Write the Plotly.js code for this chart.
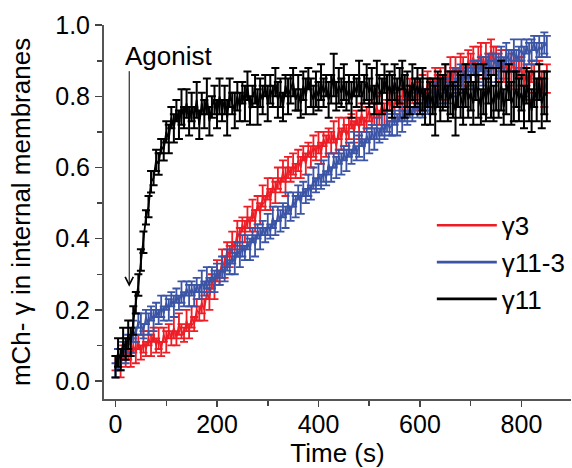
<!DOCTYPE html>
<html>
<head>
<meta charset="utf-8">
<script src="https://cdn.plot.ly/plotly-3.0.1.min.js"></script>
<style>html,body{margin:0;padding:0;background:#fff;}#chart{width:572px;height:468px;}</style>
</head>
<body>
<div id="chart"></div>
<script>
// Time points (s)
var time = [
0,5,10,15,20,25,30,35,40,45,
50,55,60,65,70,75,80,85,90,95,
100,105,110,115,120,125,130,135,140,145,
150,155,160,165,170,175,180,185,190,195,
200,205,210,215,220,225,230,235,240,245,
250,255,260,265,270,275,280,285,290,295,
300,305,310,315,320,325,330,335,340,345,
350,355,360,365,370,375,380,385,390,395,
400,405,410,415,420,425,430,435,440,445,
450,455,460,465,470,475,480,485,490,495,
500,505,510,515,520,525,530,535,540,545,
550,555,560,565,570,575,580,585,590,595,
600,605,610,615,620,625,630,635,640,645,
650,655,660,665,670,675,680,685,690,695,
700,705,710,715,720,725,730,735,740,745,
750,755,760,765,770,775,780,785,790,795,
800,805,810,815,820,825,830,835,840,845,
850];

// gamma3 (red)
var g3 = [
.05,.07,.04,.08,.06,.09,.06,.10,.08,.11,
.08,.11,.09,.12,.10,.13,.10,.12,.09,.13,
.11,.14,.12,.15,.12,.16,.14,.13,.17,.14,
.18,.16,.20,.19,.22,.20,.25,.23,.28,.26,
.31,.29,.34,.32,.37,.35,.39,.37,.42,.40,
.44,.42,.46,.44,.48,.45,.50,.47,.52,.50,
.54,.51,.55,.53,.57,.55,.59,.56,.60,.58,
.61,.59,.62,.60,.64,.61,.65,.63,.66,.64,
.67,.64,.68,.66,.69,.67,.70,.66,.71,.68,
.72,.69,.71,.73,.70,.74,.71,.75,.72,.74,
.76,.73,.75,.77,.74,.78,.75,.77,.79,.76,
.78,.80,.77,.79,.81,.78,.82,.80,.79,.82,
.81,.83,.80,.84,.82,.81,.85,.83,.86,.82,
.86,.84,.87,.85,.88,.86,.89,.87,.86,.90,
.88,.91,.87,.90,.92,.88,.91,.89,.93,.90,
.91,.88,.90,.87,.89,.86,.88,.90,.85,.87,
.88,.84,.86,.83,.87,.85,.82,.86,.84,.81,
.85];
var g3err = [
.02,.02,.03,.02,.02,.03,.02,.02,.03,.02,
.02,.03,.02,.02,.03,.02,.02,.03,.02,.02,
.03,.02,.02,.03,.02,.03,.02,.02,.03,.02,
.03,.02,.03,.02,.03,.03,.02,.03,.02,.03,
.03,.02,.03,.03,.02,.03,.03,.02,.03,.03,
.02,.03,.03,.02,.03,.03,.02,.03,.03,.02,
.03,.03,.02,.03,.03,.02,.03,.04,.03,.02,
.03,.02,.03,.03,.02,.03,.02,.03,.03,.02,
.03,.03,.02,.03,.02,.03,.03,.02,.03,.03,
.02,.03,.03,.02,.03,.02,.03,.03,.02,.03,
.03,.02,.03,.03,.02,.03,.03,.02,.03,.03,
.03,.02,.03,.03,.02,.03,.03,.02,.03,.03,
.03,.03,.02,.03,.03,.04,.03,.03,.02,.03,
.03,.03,.04,.03,.03,.02,.03,.04,.03,.03,
.04,.03,.03,.04,.03,.03,.04,.03,.03,.04,
.03,.04,.03,.03,.04,.03,.04,.03,.03,.04,
.03,.04,.03,.04,.03,.04,.03,.04,.03,.04,
.04];

// gamma11-3 (blue)
var g113 = [
.03,.06,.05,.09,.08,.11,.10,.14,.13,.17,
.16,.14,.18,.16,.19,.17,.20,.18,.21,.19,
.22,.20,.23,.21,.24,.22,.25,.23,.26,.24,
.26,.24,.27,.25,.28,.26,.29,.27,.30,.28,
.31,.29,.32,.30,.34,.32,.35,.33,.37,.35,
.38,.36,.39,.37,.41,.38,.42,.40,.43,.41,
.44,.42,.46,.43,.47,.45,.48,.46,.50,.47,
.51,.49,.53,.50,.54,.52,.55,.53,.57,.55,
.58,.56,.59,.57,.61,.58,.62,.60,.63,.61,
.64,.62,.65,.63,.67,.64,.66,.68,.65,.69,
.67,.70,.68,.71,.69,.72,.70,.73,.71,.72,
.74,.72,.75,.73,.76,.74,.77,.75,.78,.76,
.78,.76,.79,.77,.81,.78,.82,.80,.83,.81,
.83,.81,.84,.82,.85,.83,.86,.84,.87,.85,
.86,.88,.85,.87,.89,.86,.88,.90,.87,.89,
.90,.88,.91,.89,.92,.90,.91,.93,.90,.92,
.93,.91,.94,.92,.93,.95,.92,.94,.93,.95,
.94];
var g113err = [
.02,.03,.02,.02,.03,.02,.02,.03,.02,.02,
.03,.02,.02,.03,.02,.03,.02,.02,.03,.02,
.02,.03,.02,.03,.02,.02,.03,.02,.02,.03,
.02,.03,.02,.02,.03,.02,.03,.02,.02,.03,
.02,.02,.03,.02,.03,.02,.02,.03,.02,.03,
.03,.02,.02,.03,.02,.03,.02,.03,.02,.02,
.03,.02,.03,.02,.02,.03,.02,.03,.03,.02,
.02,.03,.02,.03,.02,.02,.03,.02,.03,.02,
.03,.02,.03,.02,.03,.02,.02,.03,.02,.03,
.02,.03,.02,.02,.03,.02,.03,.02,.03,.02,
.03,.02,.03,.03,.02,.03,.02,.03,.02,.03,
.02,.03,.02,.03,.03,.02,.03,.02,.03,.02,
.03,.02,.03,.02,.03,.03,.02,.03,.02,.03,
.02,.03,.03,.02,.03,.02,.03,.03,.02,.03,
.03,.02,.03,.03,.02,.03,.03,.02,.03,.03,
.02,.03,.03,.02,.03,.03,.02,.03,.03,.02,
.03,.03,.02,.03,.03,.02,.03,.03,.02,.03,
.03];

// gamma11 (black)
var g11 = [
.04,.08,.06,.11,.09,.13,.11,.17,.22,.27,
.34,.39,.46,.49,.56,.57,.62,.61,.66,.65,
.70,.68,.74,.71,.76,.72,.77,.74,.78,.73,
.77,.74,.79,.72,.78,.75,.80,.73,.77,.79,
.75,.80,.76,.79,.74,.81,.78,.76,.80,.77,
.81,.78,.83,.76,.80,.82,.77,.81,.79,.83,
.78,.82,.80,.84,.79,.81,.77,.83,.80,.82,
.84,.79,.81,.78,.83,.80,.85,.81,.79,.82,
.80,.84,.81,.83,.79,.82,.86,.80,.83,.81,
.84,.80,.82,.79,.83,.81,.85,.80,.82,.84,
.81,.83,.79,.84,.82,.80,.85,.81,.83,.80,
.84,.81,.83,.86,.80,.82,.79,.84,.81,.83,
.80,.82,.77,.81,.78,.80,.76,.82,.79,.81,
.83,.78,.81,.79,.76,.82,.80,.77,.83,.79,
.81,.78,.84,.80,.77,.82,.79,.83,.80,.78,
.82,.79,.83,.77,.81,.84,.78,.80,.82,.79,
.81,.77,.83,.80,.76,.82,.79,.84,.78,.81,
.80];
var g11err = [
.03,.04,.03,.04,.03,.04,.04,.04,.03,.03,
.03,.03,.02,.03,.03,.02,.03,.03,.02,.03,
.03,.04,.03,.04,.03,.04,.05,.03,.04,.04,
.04,.03,.05,.04,.03,.04,.05,.04,.03,.04,
.04,.05,.03,.04,.05,.04,.03,.05,.04,.04,
.03,.05,.04,.04,.03,.04,.05,.04,.04,.03,
.05,.04,.03,.04,.05,.04,.04,.03,.05,.04,
.04,.03,.05,.04,.04,.05,.03,.04,.04,.05,
.04,.05,.04,.03,.05,.04,.06,.04,.05,.04,
.05,.04,.04,.05,.03,.04,.05,.04,.04,.05,
.04,.05,.04,.06,.04,.05,.04,.05,.04,.06,
.05,.04,.05,.04,.06,.05,.04,.05,.04,.05,
.05,.06,.05,.04,.06,.05,.07,.05,.06,.05,
.06,.05,.06,.05,.07,.05,.06,.05,.06,.05,
.05,.06,.05,.06,.05,.07,.06,.05,.06,.05,
.06,.05,.07,.05,.06,.05,.06,.07,.05,.06,
.05,.06,.05,.07,.06,.05,.06,.05,.07,.06,
.07];

var names = ['\u03b33', '\u03b311-3', '\u03b311'];
var colors = ['#ee1d25', '#3b54a5', '#000000'];
var ys = [g3, g113, g11];
var errs = [g3err, g113err, g11err];

var traces = [];
for (var i = 0; i < 3; i++) {
  traces.push({
    type: 'scatter', mode: 'lines', x: time, y: ys[i], name: names[i],
    showlegend: false, legendgroup: 'g' + i,
    line: {color: colors[i], width: i === 2 ? 1.8 : 1.6},
    error_y: {type: 'data', array: errs[i], visible: true, color: colors[i],
              thickness: i === 2 ? 2 : 1.8, width: 4}
  });
}
// legend entries (no data points, key only)
for (var j = 0; j < 3; j++) {
  traces.push({
    type: 'scatter', mode: 'lines', x: [null], y: [null], name: names[j],
    legendgroup: 'g' + j, showlegend: true, hoverinfo: 'skip',
    line: {color: colors[j], width: 2.6}
  });
}

var FONT = '"Liberation Sans", Arial, sans-serif';
var FS = 25;   // tick labels
var FT = 26;   // titles, legend, annotation
var layout = {
  width: 572, height: 468,
  margin: {l: 104, r: 1, t: 24.5, b: 69, pad: 0},
  paper_bgcolor: '#fff', plot_bgcolor: '#fff',
  font: {family: FONT, size: FT, color: '#000'},
  showlegend: true,
  legend: {x: 0.702, y: 0.527, xanchor: 'left', yanchor: 'top', bgcolor: 'rgba(0,0,0,0)',
           font: {family: FONT, size: FT, color: '#000'}, traceorder: 'grouped',
           tracegroupgap: 0, itemwidth: 60},
  xaxis: {
    range: [-22.7, 897.6], tick0: 0, dtick: 200, ticks: 'outside', ticklen: 6, tickwidth: 1.5, tickcolor: '#444',
    showline: true, linecolor: '#555', linewidth: 2, showgrid: false, zeroline: false,
    minor: {tick0: 0, dtick: 100, ticks: 'outside', ticklen: 5, tickwidth: 1.5, tickcolor: '#444', showgrid: false},
    tickfont: {family: FONT, size: FS, color: '#000'}, ticklabelstandoff: -4,
    title: {text: 'Time (s)', font: {family: FONT, size: FT, color: '#000'}, standoff: 3}
  },
  yaxis: {
    range: [-0.0505, 1.0005], tick0: 0, dtick: 0.2, tickformat: '.1f', ticks: 'outside', ticklen: 7, tickwidth: 1.5, tickcolor: '#444',
    showline: true, linecolor: '#555', linewidth: 2, showgrid: false, zeroline: false,
    minor: {tick0: 0, dtick: 0.1, ticks: 'outside', ticklen: 5, tickwidth: 1.5, tickcolor: '#444', showgrid: false},
    tickfont: {family: FONT, size: FS, color: '#000'},
    title: {text: 'mCh- \u03b3 in internal membranes', font: {family: FONT, size: FT, color: '#000'}, standoff: 17}
  },
  annotations: [
    {x: 105, y: 0.914, xref: 'x', yref: 'y', text: 'Agonist', showarrow: false,
     font: {family: FONT, size: FT, color: '#000'}},
    {x: 27, y: 0.265, ax: 27, ay: 0.875, xref: 'x', yref: 'y', axref: 'x', ayref: 'y', text: '',
     showarrow: true, arrowhead: 5, arrowsize: 1.6, arrowwidth: 1, arrowcolor: '#000'}
  ]
};

Plotly.newPlot('chart', traces, layout, {displayModeBar: false, staticPlot: true});
</script>
</body>
</html>
